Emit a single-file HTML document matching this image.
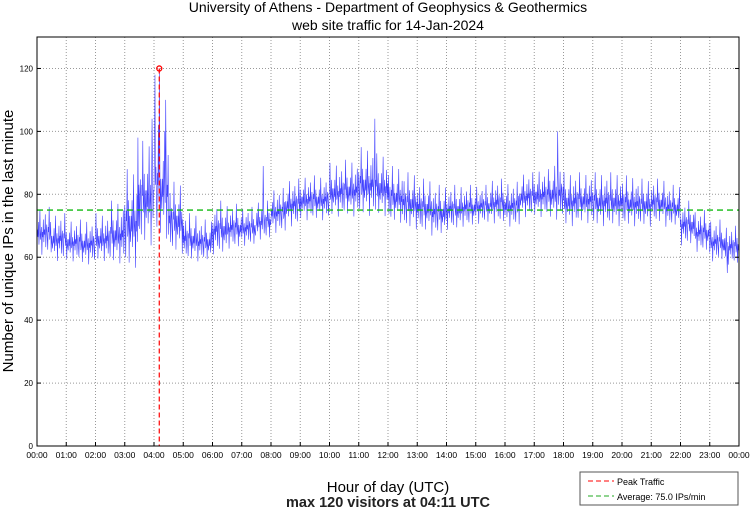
<!DOCTYPE html>
<html><head><meta charset="utf-8"><style>
body{margin:0;background:#fff;font-family:"Liberation Sans",sans-serif}
svg text{font-family:"Liberation Sans",sans-serif}
</style></head><body>
<svg id="c" width="750" height="511" viewBox="0 0 750 511">
<text x="388" y="12" font-size="14" text-anchor="middle">University of Athens - Department of Geophysics &amp; Geothermics</text>
<text x="388" y="30" font-size="14" text-anchor="middle">web site traffic for 14-Jan-2024</text>
<g id="grid"></g>
<g id="series"></g>
<g id="over"></g>
<rect x="37" y="37" width="702" height="409" fill="none" stroke="#000" stroke-width="1"/>
<g id="axes"></g>
<text transform="translate(13,241) rotate(-90)" font-size="15" text-anchor="middle">Number of unique IPs in the last minute</text>
<text x="388" y="492" font-size="15" text-anchor="middle">Hour of day (UTC)</text>
<text x="388" y="507" font-size="14.5" text-anchor="middle" font-weight="bold" fill="#222">max 120 visitors at 04:11 UTC</text>
<g>
<rect x="580" y="472" width="158" height="33" fill="#fff" stroke="#555"/>
<line x1="588" y1="481" x2="614" y2="481" stroke="#f00" stroke-dasharray="5,3"/>
<text x="617" y="485" font-size="9">Peak Traffic</text>
<line x1="588" y1="496" x2="614" y2="496" stroke="#2a2" stroke-dasharray="5,3"/>
<text x="617" y="500" font-size="9">Average: 75.0 IPs/min</text>
</g>
</svg>
<script>
const binLo=[60,58,58,57,58,57,55,62,64,60,58,58,60,62,63,65,67,69,71,71,72,72,72,72,70,68,67,66,68,69,70,70,69,72,72,71,69,70,69,69,69,69,70,69,63,61,58,57];
const binHi=[76,74,72,72,74,78,88,97,102,84,74,72,78,77,76,78,82,85,86,86,90,91,95,93,89,87,85,83,83,83,83,85,84,87,88,90,87,87,87,87,86,85,85,83,78,75,72,70];
const spikeHours=[3.45,3.93,4.03,4.18,4.4,7.73,11.55,17.8,23.6];
const spikeVals=[98,104,118,120,110,89,104,100,55];
const yTicks=[0,20,40,60,80,100,120];
const xTickLabels=["00:00","01:00","02:00","03:00","04:00","05:00","06:00","07:00","08:00","09:00","10:00","11:00","12:00","13:00","14:00","15:00","16:00","17:00","18:00","19:00","20:00","21:00","22:00","23:00","00:00"];
const avgValue=75, peakHour=4.18, peakValue=120;
const NS="http://www.w3.org/2000/svg";
const X0=37,X1=739,Y0=446,Y1=37,VMAX=130;
const xs=h=>X0+(X1-X0)*h/24;
const ys=v=>Y0-(Y0-Y1)*v/VMAX;
function mk(t,a,p){const e=document.createElementNS(NS,t);for(const k in a)e.setAttribute(k,a[k]);p.appendChild(e);return e;}
const grid=document.getElementById('grid'),axes=document.getElementById('axes');
yTicks.forEach(v=>{
 if(v>0){const l=mk('line',{x1:X0,x2:X1,y1:ys(v),y2:ys(v),stroke:'#999','stroke-dasharray':'1,2'},grid);
 
 }
 mk('line',{x1:X0,x2:X0+4,y1:ys(v),y2:ys(v),stroke:'#000'},axes);
 mk('line',{x1:X1-4,x2:X1,y1:ys(v),y2:ys(v),stroke:'#000'},axes);
 const t=mk('text',{x:X0-4,y:ys(v)+3,'font-size':8,'text-anchor':'end'},axes);t.textContent=v;
 
 
});
xTickLabels.forEach((s,i)=>{
 const x=xs(i);
 if(i>0&&i<24){const l=mk('line',{x1:x,x2:x,y1:Y1,y2:Y0,stroke:'#999','stroke-dasharray':'1,2'},grid);
 
 }
 mk('line',{x1:x,x2:x,y1:Y0,y2:Y0-4,stroke:'#000'},axes);
 const t=mk('text',{x:x,y:458,'font-size':8.5,'text-anchor':'middle'},axes);t.textContent=s;
 
 
});
const pat=[0.3,0.55,0.4,0.7,0.25,0.5,0.95,0.35,0.45,0.6,0.05,0.5,0.4,0.75,0.3,0.55,0.45,0.85,0.2,0.5,0.65,0.4,0.15,0.6,0.5,1,0.35,0.45,0.7,0.1,0.55,0.4];
const vals=[];
for(let m=0;m<1440;m++){const b=Math.floor(m/30);vals.push(binLo[b]+(binHi[b]-binLo[b])*pat[m%pat.length]);}
spikeHours.forEach((h,i)=>{vals[Math.min(1439,Math.round(h*60))]=spikeVals[i];});
let d='';vals.forEach((v,m)=>{d+=(m?'L':'M')+xs(m/60).toFixed(2)+','+ys(v).toFixed(2);});
const ser=mk('path',{d:d,fill:'none',stroke:'#2020ff','stroke-width':0.6,'stroke-opacity':0.85},document.getElementById('series'));


const over=document.getElementById('over');
const avg=mk('line',{x1:X0,x2:X1,y1:ys(avgValue),y2:ys(avgValue),stroke:'#1b1','stroke-width':1.3,'stroke-dasharray':'6,4'},over);


const pk=mk('line',{x1:xs(peakHour),x2:xs(peakHour),y1:ys(peakValue),y2:Y0,stroke:'#f00','stroke-width':1.2,'stroke-dasharray':'5,3'},over);


const pm=mk('circle',{cx:xs(peakHour),cy:ys(peakValue),r:2.5,fill:'none',stroke:'#f00','stroke-width':1.3},over);


</script>
</body></html>
